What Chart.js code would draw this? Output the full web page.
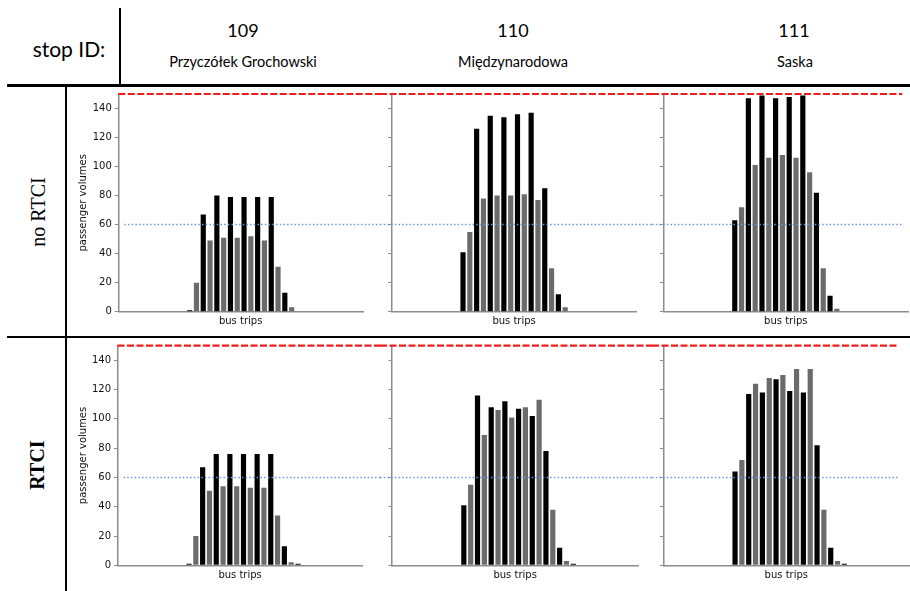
<!DOCTYPE html>
<html>
<head>
<meta charset="utf-8">
<script src="https://cdn.jsdelivr.net/npm/chart.js@4/dist/chart.umd.min.js"></script>
<style>
  body { margin: 0; width: 910px; height: 591px; position: relative; background: #fff; overflow: hidden; }
  .line { position: absolute; background: #000; }
  .txt { position: absolute; transform: translate(-50%, -50%); white-space: nowrap; font-family: Lato, "Open Sans", sans-serif; color: #000; }
  .rot { position: absolute; transform: translate(-50%, -50%) rotate(-90deg); white-space: nowrap; font-family: "Liberation Serif", "DejaVu Serif", serif; font-size: 20px; color: #000; }
  canvas { position: absolute; }
</style>
</head>
<body>

<div class="txt" style="left:69px; top:48px; font-size:21px;">stop ID:</div>
<div class="txt" style="left:243px; top:30px; font-size:18px;">109</div>
<div class="txt" style="left:243px; top:61px; font-size:14.5px;">Przyczółek Grochowski</div>
<div class="txt" style="left:513px; top:30px; font-size:18px;">110</div>
<div class="txt" style="left:513px; top:61px; font-size:14.5px;">Międzynarodowa</div>
<div class="txt" style="left:794px; top:30px; font-size:18px;">111</div>
<div class="txt" style="left:795px; top:61px; font-size:14.5px;">Saska</div>

<div class="rot" style="left:38px; top:212px;">no RTCI</div>
<div class="rot" style="left:37px; top:465px; font-weight:bold;">RTCI</div>

<canvas id="c1" width="310" height="252" style="left:70px; top:84px;"></canvas>
<canvas id="c2" width="272" height="252" style="left:380px; top:84px;"></canvas>
<canvas id="c3" width="258" height="252" style="left:652px; top:84px;"></canvas>
<canvas id="c4" width="310" height="255" style="left:70px; top:336px;"></canvas>
<canvas id="c5" width="272" height="255" style="left:380px; top:336px;"></canvas>
<canvas id="c6" width="258" height="255" style="left:652px; top:336px;"></canvas>

<div class="line" style="left:119px; top:8px; width:1.5px; height:77px;"></div>
<div class="line" style="left:7px; top:84px; width:903px; height:3px;"></div>
<div class="line" style="left:65px; top:87px; width:2px; height:504px;"></div>
<div class="line" style="left:7px; top:336px; width:903px; height:2px;"></div>

<script>
// bus trip slots along the x axis
const busTrips = [1, 2, 3, 4, 5, 6, 7, 8, 9, 10, 11, 12, 13, 14, 15, 16, 17, 18,
                  19, 20, 21, 22, 23, 24, 25, 26, 27, 28, 29, 30, 31, 32, 33, 34, 35, 36];
const firstTrip = 10; // index of the first served trip

// passenger volumes, no RTCI
const noRtci109 = [1, 20, 67, 49, 80, 51, 79, 51, 79, 52, 79, 49, 79, 31, 13, 3];
const noRtci110 = [41, 55, 126, 78, 135, 80, 134, 80, 136, 81, 137, 77, 85, 30, 12, 3];
const noRtci111 = [63, 72, 147, 101, 149, 106, 147, 108, 148, 106, 149, 96, 82, 30, 11, 2];

// passenger volumes, RTCI
const rtci109 = [1, 20, 67, 51, 76, 54, 76, 54, 76, 53, 76, 53, 76, 34, 13, 2, 1];
const rtci110 = [41, 55, 116, 89, 108, 106, 112, 101, 107, 108, 102, 113, 78, 38, 12, 3, 1];
const rtci111 = [64, 72, 117, 124, 118, 128, 127, 130, 119, 134, 118, 134, 82, 38, 12, 3, 1];

const yTicks = [0, 20, 40, 60, 80, 100, 120, 140];
const capacityLine = 150;
const seatLine = 60;

Chart.defaults.font.family = '"DejaVu Sans", sans-serif';

const axisGray = '#8c8c8c';
const labelFont = { size: 10 };

const refLines = {
  id: 'refLines',
  afterDraw(chart, args, o) {
    const { ctx, chartArea, scales: { y } } = chart;
    const start = o.left ? chartArea.left : 0;
    const end = o.right != null ? chartArea.right - o.right : chart.width;
    function hline(v, color, dash, w, x0) {
      const py = y.getPixelForValue(v);
      ctx.save();
      ctx.strokeStyle = color;
      ctx.lineWidth = w;
      ctx.setLineDash(dash);
      ctx.beginPath();
      ctx.moveTo(x0, py);
      ctx.lineTo(end, py);
      ctx.stroke();
      ctx.restore();
    }
    hline(seatLine, '#7396dc', [1.5, 2.2], 1.5, o.left ? start + 6 : start);
    hline(capacityLine, '#f01c1c', [7, 2.5], 2.2, start);
  }
};

function makePanel(id, values, o) {
  const data = busTrips.map((t, i) => {
    const v = values[i - firstTrip];
    return v === undefined ? null : v;
  });
  const colors = busTrips.map((t, i) => ((i - firstTrip) % 2 === 0 ? '#000000' : '#6b6b6b'));

  new Chart(document.getElementById(id), {
    type: 'bar',
    data: {
      labels: busTrips,
      datasets: [{
        data: data,
        backgroundColor: colors,
        barPercentage: 0.76,
        categoryPercentage: 1
      }]
    },
    options: {
      responsive: false,
      animation: false,
      layout: { padding: { top: o.top, right: o.padRight, left: 0, bottom: 0 } },
      plugins: {
        legend: { display: false },
        tooltip: { enabled: false },
        refLines: { left: o.first, right: o.lastInset }
      },
      scales: {
        x: {
          grid: { display: false },
          border: { color: axisGray, width: 1.5 },
          ticks: { display: false },
          title: {
            display: true,
            text: 'bus trips',
            color: '#111',
            font: labelFont,
            padding: { top: 0, bottom: o.titlePad }
          },
          afterFit: (a) => { a.height = o.xh; }
        },
        y: {
          min: 0,
          max: capacityLine,
          afterBuildTicks: (a) => { a.ticks = yTicks.map(v => ({ value: v })); },
          grid: { drawOnChartArea: false, drawTicks: true, tickLength: 3.5, color: axisGray, lineWidth: 1 },
          border: { color: axisGray, width: 1.5 },
          ticks: { display: o.first, color: '#111', font: labelFont, padding: 3 },
          title: {
            display: o.first,
            text: 'passenger volumes',
            color: '#111',
            font: labelFont,
            padding: { top: 7.3, bottom: 0 }
          },
          afterFit: (a) => { a.width = o.yw; }
        }
      }
    },
    plugins: [refLines]
  });
}

const topRow = { top: 10, xh: 24.3, titlePad: 8.5 };
const bottomRow = { top: 9.7, xh: 25.7, titlePad: 10 };

makePanel('c1', noRtci109, { ...topRow, first: true, yw: 48.3, padRight: 17 });
makePanel('c2', noRtci110, { ...topRow, first: false, yw: 11.5, padRight: 15.3 });
makePanel('c3', noRtci111, { ...topRow, first: false, yw: 11.3, padRight: 1.7, lastInset: 6 });
makePanel('c4', rtci109, { ...bottomRow, first: true, yw: 47.5, padRight: 17.3 });
makePanel('c5', rtci110, { ...bottomRow, first: false, yw: 12, padRight: 13.7 });
makePanel('c6', rtci111, { ...bottomRow, first: false, yw: 11.3, padRight: 0.7, lastInset: 11 });
</script>
</body>
</html>
